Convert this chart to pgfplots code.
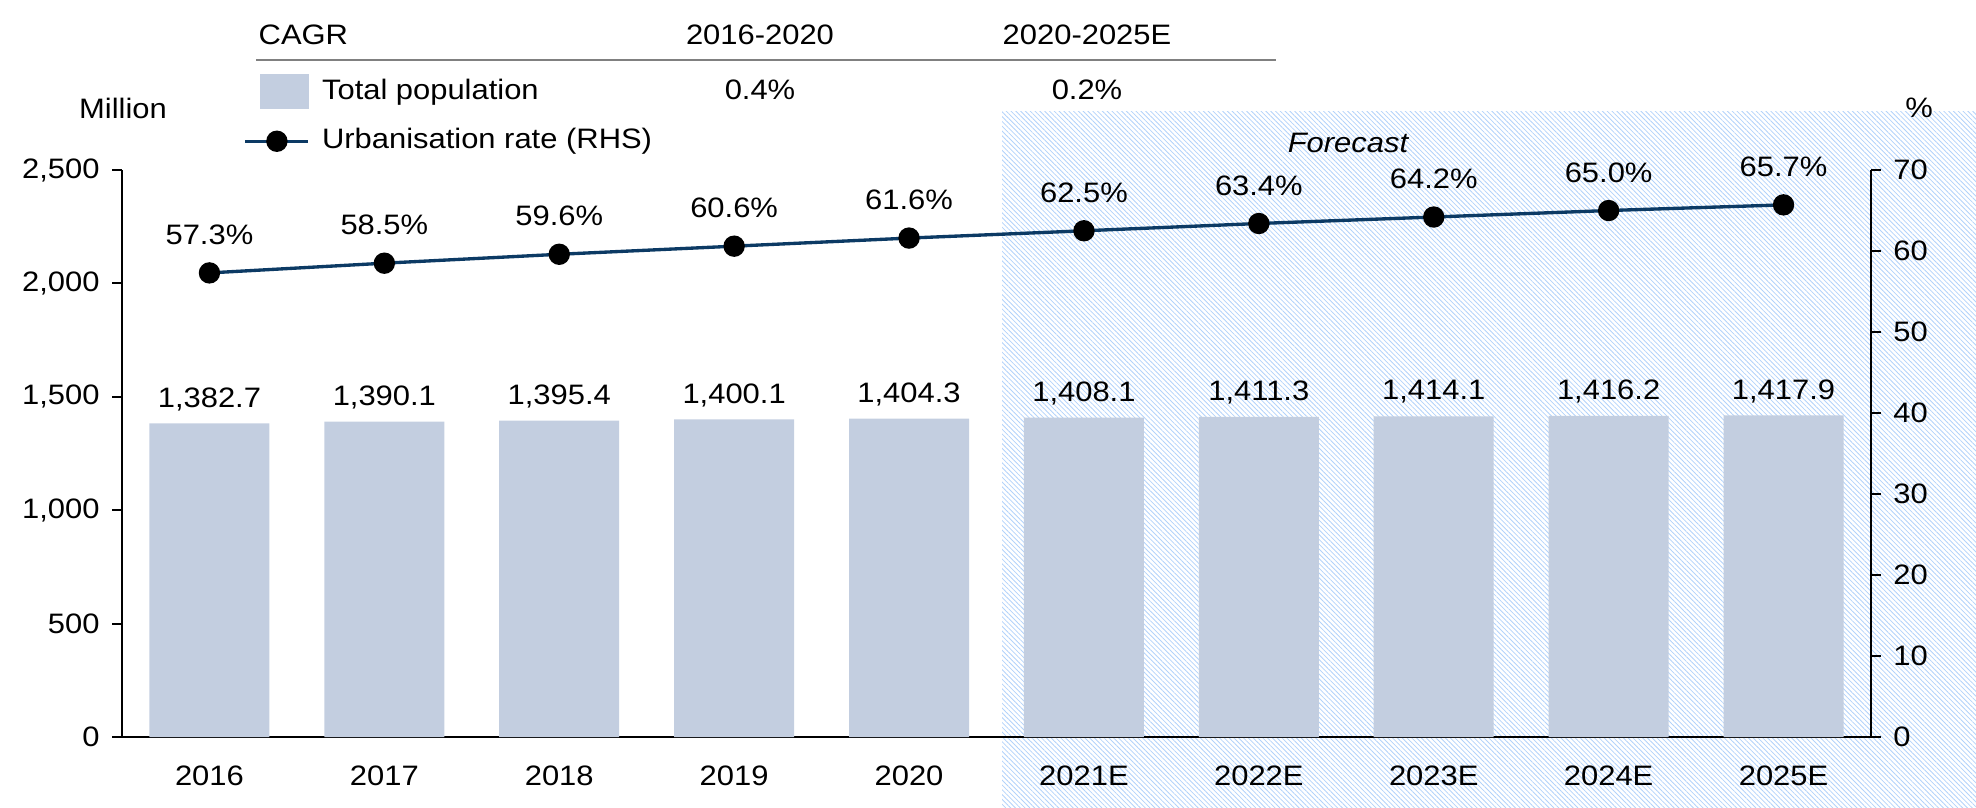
\documentclass[border=0pt]{standalone}
\usepackage{fontspec}
\setmainfont{Liberation Sans}[FakeStretch=1.1]
\usepackage{pgfplots}
\pgfplotsset{compat=1.18}
\usetikzlibrary{patterns.meta}
\definecolor{barc}{RGB}{195,206,224}
\definecolor{linec}{RGB}{12,58,100}
\definecolor{hatchc}{RGB}{178,210,250}
\pgfplotsset{/pgf/number format/assume math mode=true}
\newcommand{\ff}{\fontsize{8}{9.6}\selectfont}
\begin{document}
\begin{tikzpicture}[font=\ff]
\useasboundingbox (0,0) rectangle (197.6mm,80.7mm);
\fill[pattern={Lines[angle=-45,distance=0.34mm,line width=0.08mm]}, pattern color=hatchc] (100.2mm,0) rectangle (197.6mm,69.6mm);

% CAGR table
\node[anchor=west, inner sep=0pt] at (25.8mm,77.2mm) {CAGR};
\node[inner sep=0pt] at (76.0mm,77.2mm) {2016-2020};
\node[inner sep=0pt] at (108.7mm,77.2mm) {2020-2025E};
\draw[gray, line width=0.25mm] (25.6mm,74.7mm) -- (127.6mm,74.7mm);
\node[inner sep=0pt] at (76.0mm,71.7mm) {0.4\%};
\node[inner sep=0pt] at (108.7mm,71.7mm) {0.2\%};
\node[inner sep=0pt] at (12.3mm,69.9mm) {Million};
\node[inner sep=0pt] at (191.9mm,69.9mm) {\%};
\node[inner sep=0pt] at (134.8mm,66.4mm) {\itshape Forecast};

\begin{axis}[
  at={(12.2mm,7.0mm)}, anchor=south west,
  scale only axis, width=174.9mm, height=56.7mm,
  xmin=-0.5, xmax=9.5, ymin=0, ymax=2500,
  axis x line*=bottom, axis y line*=left,
  axis line style={line width=0.6pt},
  xtick={0,...,9},
  xticklabels={2016,2017,2018,2019,2020,2021E,2022E,2023E,2024E,2025E},
  x tick style={draw=none},
  xticklabel style={yshift=-0.6mm},
  ytick={0,500,...,2500},
  scaled y ticks=false,
  yticklabel style={/pgf/number format/1000 sep={,}},
  y tick style={line width=0.6pt, black},
  tick align=outside, major tick length=1mm,
  tick label style={font=\ff},
]
\addplot[ybar, bar width=12mm, bar shift=0pt, fill=barc, draw=none,
  nodes near coords={\pgfmathprintnumber[fixed,fixed zerofill,precision=1,1000 sep={,}]{\pgfplotspointmeta}},
  every node near coord/.append style={anchor=south, inner sep=0pt, yshift=1.2mm, font=\ff, text=black}]
coordinates {(0,1382.7) (1,1390.1) (2,1395.4) (3,1400.1) (4,1404.3) (5,1408.1) (6,1411.3) (7,1414.1) (8,1416.2) (9,1417.9)};
\end{axis}

\begin{axis}[
  at={(12.2mm,7.0mm)}, anchor=south west,
  scale only axis, width=174.9mm, height=56.7mm,
  xmin=-0.5, xmax=9.5, ymin=0, ymax=70,
  axis x line=none, axis y line*=right,
  axis line style={line width=0.6pt},
  ytick={0,10,...,70},
  y tick style={line width=0.6pt, black},
  tick align=outside, major tick length=1mm,
  tick label style={font=\ff},
  legend cell align=left,
  legend style={draw=none, fill=none, inner sep=0pt, at={(0.0692,1.170)}, anchor=north west,
    nodes={inner sep=0pt, font=\ff}, row sep=1.6mm, column sep=1.2mm},
]
\addlegendimage{legend image code/.code={\fill[barc] (1.5mm,-1.65mm) rectangle (6.3mm,1.65mm);}}
\addlegendentry{Total population}
\addplot[linec, line width=0.95pt, mark=*, mark size=0.9mm, mark options={fill=black, draw=black},
  nodes near coords={\pgfmathprintnumber[fixed,fixed zerofill,precision=1]{\pgfplotspointmeta}\%},
  every node near coord/.append style={anchor=south, inner sep=0pt, yshift=2.65mm, font=\ff, text=black},
  legend image code/.code={\path[draw=none,fill=none] (0,-1.65mm) rectangle (6.3mm,1.65mm); \draw[linec,line width=0.95pt] (0mm,0mm) -- (6.3mm,0mm); \fill[black] (3.15mm,0mm) circle (0.9mm);}]
coordinates {(0,57.3) (1,58.5) (2,59.6) (3,60.6) (4,61.6) (5,62.5) (6,63.4) (7,64.2) (8,65.0) (9,65.7)};
\addlegendentry{Urbanisation rate (RHS)}
\end{axis}
\end{tikzpicture}
\end{document}
